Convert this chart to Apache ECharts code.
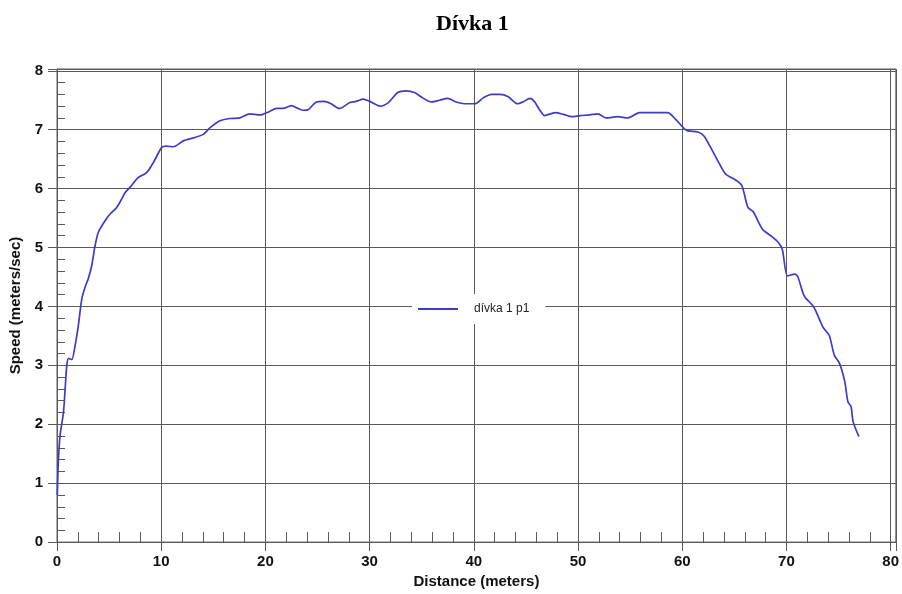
<!DOCTYPE html>
<html>
<head>
<meta charset="utf-8">
<script src="https://cdn.jsdelivr.net/npm/echarts@6/dist/echarts.min.js"></script>
<style>
  html, body { margin: 0; padding: 0; background: #fff; }
  #chart { width: 902px; height: 594px; }
</style>
</head>
<body>
<div id="chart"></div>
<script>
// Run profile: distance covered (m) vs. speed (m/s)
var distance = [0.03,0.13,0.3,0.62,0.78,0.94,1.1,1.42,1.74,2.05,2.38,2.7,3.0,3.33,3.65,3.97,4.6,5.09,5.73,6.2,
  6.53,7.0,7.8,8.6,9.24,10.05,10.5,11.16,12.12,13.08,14.04,14.67,15.64,16.6,17.55,18.5,19.5,20.4,21.07,21.7,
  22.5,23.0,23.6,24.1,24.9,25.6,26.3,27.1,28.1,28.7,29.4,30.0,31.0,31.8,32.7,33.5,34.3,35.1,35.9,36.7,
  37.5,38.3,39.1,40.1,40.9,41.7,42.5,43.3,44.2,44.7,45.4,45.8,46.3,46.8,47.8,48.6,49.4,50.2,51.1,51.9,
  52.7,53.8,54.8,55.9,58.6,59.4,60.4,61.5,62.1,62.9,63.6,64.2,65.0,65.7,66.3,66.8,67.7,68.5,69.2,69.6,
  70.1,70.8,71.1,71.7,72.5,72.8,73.5,74.1,74.6,75.1,75.6,75.9,76.2,76.4,76.95];
var speed = [0.8,1.37,1.82,2.2,2.6,3.0,3.12,3.1,3.34,3.68,4.13,4.33,4.47,4.69,5.03,5.26,5.45,5.57,5.68,5.82,
  5.93,6.02,6.19,6.27,6.44,6.7,6.72,6.71,6.81,6.86,6.92,7.03,7.15,7.19,7.2,7.27,7.25,7.31,7.36,7.36,
  7.41,7.37,7.33,7.34,7.47,7.48,7.44,7.36,7.46,7.48,7.52,7.48,7.4,7.46,7.63,7.66,7.63,7.54,7.47,7.5,
  7.53,7.47,7.44,7.44,7.54,7.6,7.6,7.56,7.44,7.47,7.53,7.48,7.34,7.24,7.29,7.26,7.22,7.24,7.25,7.27,
  7.2,7.22,7.2,7.29,7.29,7.17,6.99,6.96,6.89,6.64,6.41,6.24,6.16,6.06,5.68,5.61,5.31,5.2,5.09,4.97,
  4.52,4.55,4.5,4.18,4.02,3.93,3.65,3.51,3.17,3.03,2.72,2.38,2.3,2.04,1.79];

var xTickLabels = [0,10,20,30,40,50,60,70,80];
var yTickLabels = [0,1,2,3,4,5,6,7,8];
var seriesName = 'dívka 1 p1';

// minor (inside) tick positions
var xMinor = [], yMinor = [];
for (var i = 0; i <= 40; i++) { if (i % 5) xMinor.push(i * 2); }
for (var j = 0; j <= 40; j++) { if (j % 5) yMinor.push(+(j * 0.2).toFixed(1)); }

var points = distance.map(function (d, k) { return [d, speed[k]]; });

var gridColor = '#5a5a5a';
var labelFont = { color: '#111', fontFamily: 'Liberation Sans, Arial, sans-serif', fontWeight: 'bold', fontSize: 15 };

var chart = echarts.init(document.getElementById('chart'), null, { renderer: 'canvas' });
chart.setOption({
  backgroundColor: '#fff',
  animation: false,
  title: {
    text: 'Dívka 1',
    left: 431, top: 8,
    textStyle: { fontFamily: 'Liberation Serif, Times New Roman, serif', fontWeight: 'bold', fontSize: 22, color: '#000' }
  },
  legend: {
    data: [seriesName],
    left: 412, top: 294,
    backgroundColor: '#fff',
    padding: [9, 16, 9, 6],
    itemWidth: 40, itemHeight: 10,
    icon: 'path://M0,4 L40,4 L40,6 L0,6 Z',
    textStyle: { fontFamily: 'Liberation Sans, Arial, sans-serif', fontSize: 12, color: '#222', padding: [0, 0, 0, 11] }
  },
  grid: { left: 57, right: 5, top: 69, bottom: 50, show: true, borderColor: gridColor, borderWidth: 1 },
  xAxis: [{
    type: 'value', min: 0, max: 80.5, interval: 10,
    name: 'Distance (meters)', nameLocation: 'middle', nameGap: 30,
    nameTextStyle: { color: '#111', fontFamily: 'Liberation Sans, Arial, sans-serif', fontWeight: 'bold', fontSize: 15 },
    axisLine: { show: true, lineStyle: { color: gridColor } },
    axisTick: { show: true, length: 9, lineStyle: { color: gridColor } },
    axisLabel: Object.assign({ margin: 12, formatter: function (v) { return xTickLabels.indexOf(v) >= 0 ? String(v) : ''; } }, labelFont),
    splitLine: { show: true, lineStyle: { color: gridColor, width: 1 } }
  }, {
    type: 'value', min: 0, max: 80.5, position: 'bottom',
    axisLine: { show: false },
    axisLabel: { show: false },
    splitLine: { show: false },
    axisTick: { show: true, inside: true, length: 10, customValues: xMinor, lineStyle: { color: gridColor } }
  }],
  yAxis: [{
    type: 'value', min: 0, max: 8.03, interval: 1,
    name: 'Speed (meters/sec)', nameLocation: 'middle', nameGap: 29,
    nameTextStyle: { color: '#111', fontFamily: 'Liberation Sans, Arial, sans-serif', fontWeight: 'bold', fontSize: 15 },
    axisLine: { show: true, lineStyle: { color: gridColor } },
    axisTick: { show: true, length: 9, lineStyle: { color: gridColor } },
    axisLabel: Object.assign({ margin: 14, formatter: function (v) { return yTickLabels.indexOf(v) >= 0 ? String(v) : ''; } }, labelFont),
    splitLine: { show: true, lineStyle: { color: gridColor, width: 1 } }
  }, {
    type: 'value', min: 0, max: 8.03, position: 'left',
    axisLine: { show: false },
    axisLabel: { show: false },
    splitLine: { show: false },
    axisTick: { show: true, inside: true, length: 8, customValues: yMinor, lineStyle: { color: gridColor } }
  }],
  series: [{
    name: seriesName,
    type: 'line',
    xAxisIndex: 0, yAxisIndex: 0,
    data: points,
    symbol: 'none',
    smooth: 0.25,
    lineStyle: { color: '#3c3cc8', width: 1.7 },
    itemStyle: { color: '#3c3cc8' }
  }]
});
</script>
</body>
</html>
